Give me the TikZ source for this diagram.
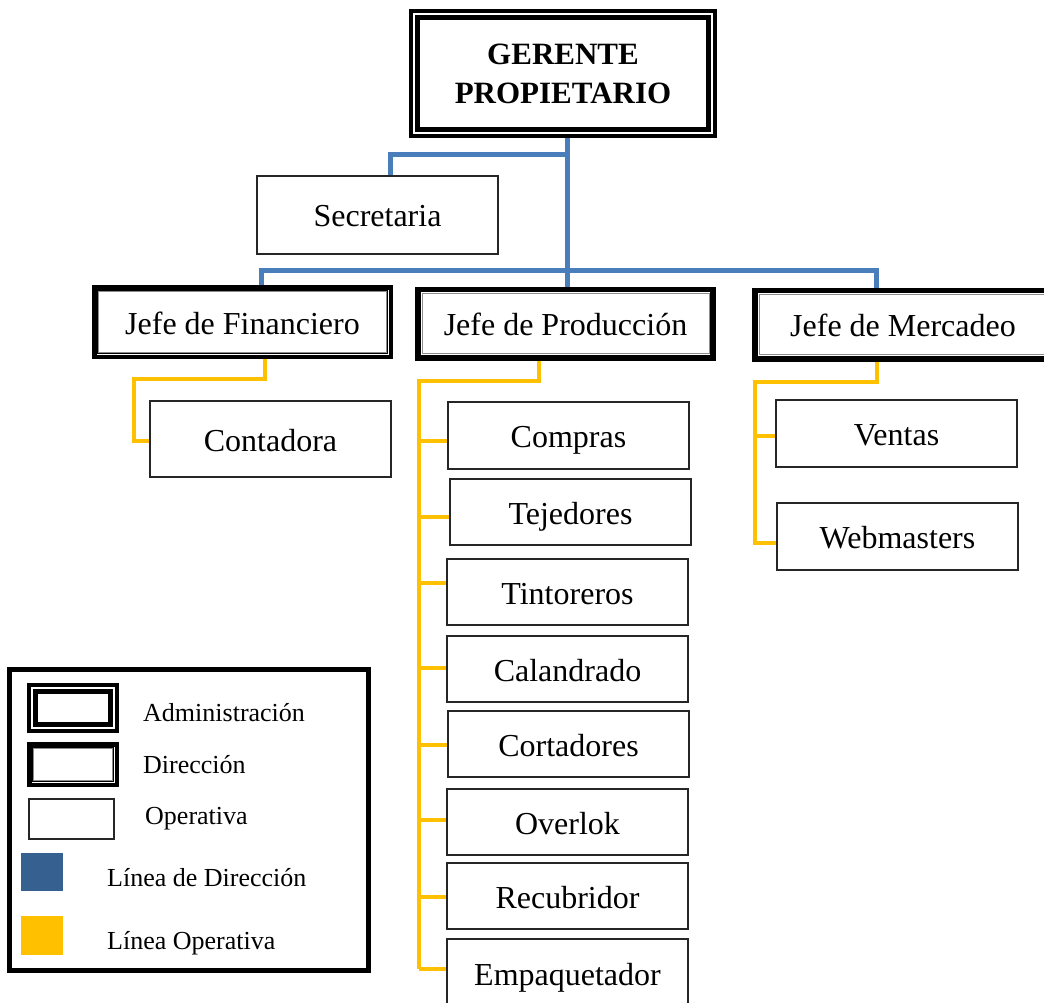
\documentclass[tikz,border=0pt]{standalone}
\usepackage{fontspec}
\setmainfont{Liberation Serif}
\definecolor{dirblue}{HTML}{4A7EBB}
\definecolor{legblue}{HTML}{36608F}
\definecolor{opyellow}{HTML}{FFC000}
% inner line of a framed box: style, inset, node
\newcommand{\innerframe}[3]{%
  \draw[#1] ([xshift=#2,yshift=-#2]#3.north west) rectangle ([xshift=-#2,yshift=#2]#3.south east);}
% thin double inner line of a direction box
\newcommand{\dirframe}[1]{\innerframe{dirin}{5.2pt}{#1}\innerframe{dirin2}{6.8pt}{#1}}
\begin{document}
\begin{tikzpicture}[x=1pt,y=-1pt,
  txt/.style={font=\fontsize{32}{38}\selectfont, text height=29pt, text depth=5pt},
  legtxt/.style={font=\fontsize{26}{30}\selectfont, anchor=west, inner sep=0pt},
  opbox/.style={draw=black!85, line width=1.3pt, inner sep=0pt, txt,
                minimum width=241pt, minimum height=67pt},
  adminbox/.style={draw=black, line width=4pt, inner sep=0pt},
  dirbox/.style={draw=black, line width=4.5pt, inner sep=0pt, txt,
                 minimum width=296.5pt, minimum height=69.5pt},
  adminin/.style={draw=black, line width=5pt},
  dirin/.style={draw=black, line width=1.1pt},
  dirin2/.style={draw=black!45, line width=0.8pt},
  dirline/.style={draw=dirblue, line width=5pt},
  opline/.style={draw=opyellow, line width=4pt},
]
\useasboundingbox (0,0) rectangle (1044,1003);

% ---- top management
\node[adminbox, minimum width=304pt, minimum height=125pt, align=center,
      font=\fontsize{31}{39}\selectfont\bfseries] (g) at (563,74) {GERENTE\\PROPIETARIO};
\innerframe{adminin}{8.5pt}{g}

\node[opbox, minimum height=78pt] (s) at (377.5,215) {Secretaria};

% ---- department heads
\node[dirbox] (f) at (242.5,322) {Jefe de Financiero};
\node[dirbox, minimum width=296pt] (p) at (565.5,323.5) {Jefe de Producción};
\node[dirbox, minimum width=297pt] (m) at (903,324.5) {Jefe de Mercadeo};
\dirframe{f}
\dirframe{p}
\dirframe{m}

% ---- operative staff
\node[opbox, minimum height=76pt] (c) at (270.5,439) {Contadora};

\node[opbox] (b1) at (568.5,435.5) {Compras};
\node[opbox, minimum height=66pt] (b2) at (570.5,512) {Tejedores};
\node[opbox, minimum height=66pt] (b3) at (567.5,592) {Tintoreros};
\node[opbox, minimum height=66pt] (b4) at (567.5,669) {Calandrado};
\node[opbox, minimum height=66pt] (b5) at (568.5,744) {Cortadores};
\node[opbox, minimum height=66pt] (b6) at (567.5,822) {Overlok};
\node[opbox, minimum height=66pt] (b7) at (567.5,896) {Recubridor};
\node[opbox, minimum height=68pt] (b8) at (567.5,973) {Empaquetador};

\node[opbox] (v) at (896.5,433.5) {Ventas};
\node[opbox] (w) at (897.5,536.5) {Webmasters};

% ---- direction lines
\coordinate (trunk) at (567,138);
\coordinate (sj) at (567,155);
\coordinate (sd) at (390,155);
\coordinate (bl) at (261,270);
\coordinate (br) at (876,270);
\draw[dirline] (trunk) -- (trunk |- p.north);
\draw[dirline] (sj) -- (sd) -- (sd |- s.north);
\draw[dirline] (bl |- f.north) -- (bl) -- (br) -- (br |- m.north);

% ---- operative lines: finance
\coordinate (fa) at (265,379);
\coordinate (fb) at (134,379);
\coordinate (fc) at (134,441);
\draw[opline] (fa |- f.south) -- (fa) -- (fb) -- (fc) -- (fc -| c.west);

% ---- operative lines: production
\coordinate (pa) at (539,381);
\coordinate (pb) at (419,381);
\coordinate (pe) at (419,969);
\draw[opline] (pa |- p.south) -- (pa) -- (pb) -- (pe);
\coordinate (t1) at (419,441);
\coordinate (t2) at (419,517);
\coordinate (t3) at (419,583);
\coordinate (t4) at (419,668);
\coordinate (t5) at (419,745);
\coordinate (t6) at (419,820);
\coordinate (t7) at (419,897);
\draw[opline] (t1) -- (t1 -| b1.west);
\draw[opline] (t2) -- (t2 -| b2.west);
\draw[opline] (t3) -- (t3 -| b3.west);
\draw[opline] (t4) -- (t4 -| b4.west);
\draw[opline] (t5) -- (t5 -| b5.west);
\draw[opline] (t6) -- (t6 -| b6.west);
\draw[opline] (t7) -- (t7 -| b7.west);
\draw[opline] (pe) -- (pe -| b8.west);

% ---- operative lines: marketing
\coordinate (ma) at (877,382);
\coordinate (mb) at (755,382);
\coordinate (mv) at (755,436);
\coordinate (me) at (755,543);
\draw[opline] (ma |- m.south) -- (ma) -- (mb) -- (me) -- (me -| w.west);
\draw[opline] (mv) -- (mv -| v.west);

% ---- legend
\node[draw=black, line width=5pt, minimum width=359pt, minimum height=301pt] (leg) at (189,820) {};
\node[adminbox, minimum width=88pt, minimum height=46pt] (la) at (73,708) {};
\innerframe{adminin}{8.5pt}{la}
\node[draw=black, line width=4.5pt, inner sep=0pt, minimum width=87.5pt, minimum height=40.5pt] (ld) at (73,764.5) {};
\dirframe{ld}
\node[draw=black!85, line width=1.3pt, inner sep=0pt, minimum width=85pt, minimum height=40pt] (lo) at (71.5,819) {};
\node[fill=legblue, inner sep=0pt, minimum width=42pt, minimum height=38pt] (lb) at (42,872) {};
\node[fill=opyellow, inner sep=0pt, minimum width=42pt, minimum height=39pt] (ly) at (42,935.5) {};
\node[legtxt] (ta) at (143,713) {Administración};
\node[legtxt] (td) at (143,765) {Dirección};
\node[legtxt] (to) at (145,819) {Operativa};
\node[legtxt] (tb) at (107,878) {Línea de Dirección};
\node[legtxt] (ty) at (107,943) {Línea Operativa};
\end{tikzpicture}
\end{document}
